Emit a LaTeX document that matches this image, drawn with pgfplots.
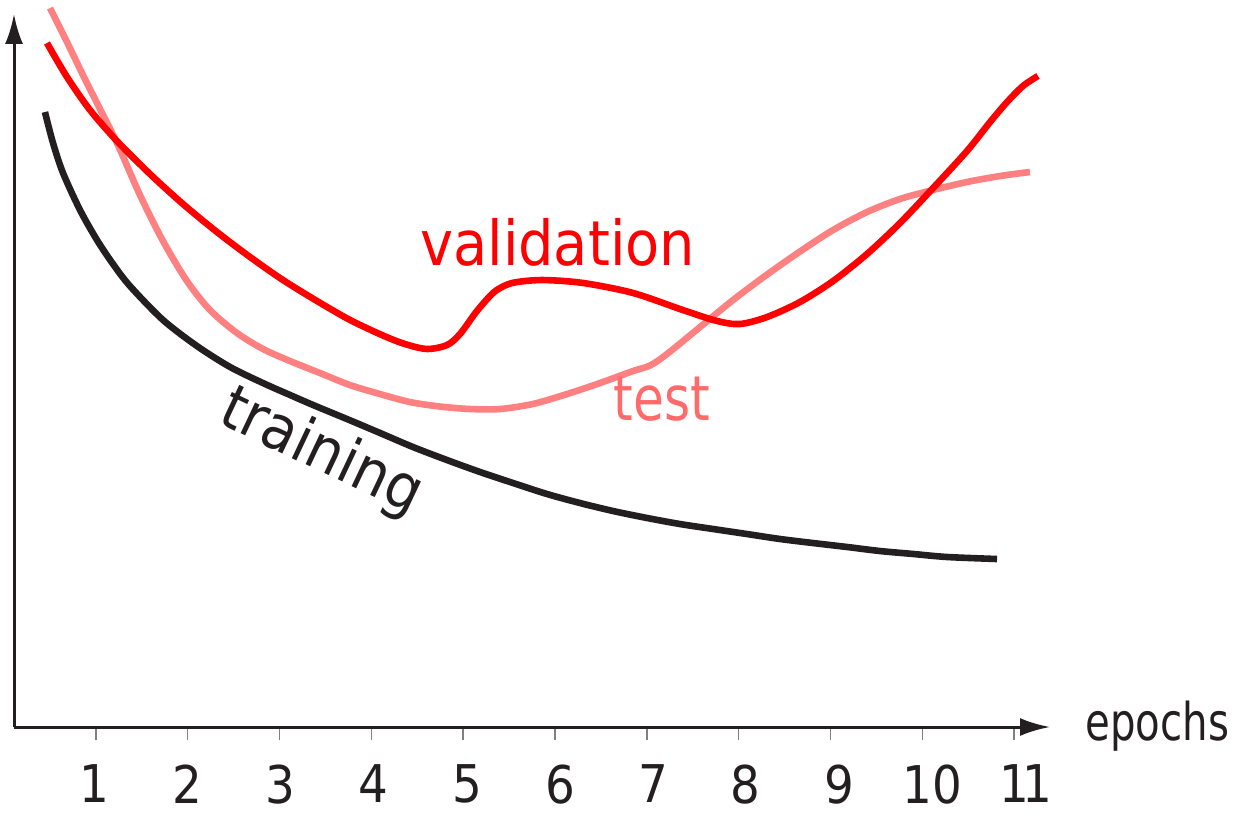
\documentclass[border=0pt]{standalone}
\usepackage{fontspec}
\setmainfont{DejaVu Sans Condensed}
\usepackage{pgfplots}
\pgfplotsset{compat=1.18}
\usetikzlibrary{arrows.meta}
\definecolor{trainc}{HTML}{231F20}
\definecolor{valc}{HTML}{FF0000}
\definecolor{testc}{HTML}{FF8080}
\definecolor{testlab}{HTML}{FF6B6B}
\begin{document}
\begin{tikzpicture}
\useasboundingbox (0,0) rectangle (622pt,-410.5pt);
\begin{axis}[
  at={(7pt,-363.5pt)}, anchor=south west,
  scale only axis, width=518pt, height=356.5pt,
  xmin=0.107, xmax=11.392, ymin=0, ymax=7.767,
  axis x line=bottom, axis y line=left,
  axis line style={trainc, line width=1.5pt},
  every outer x axis line/.append style={-{Latex[length=15pt,width=9pt]}},
  every outer y axis line/.append style={-{Latex[length=15pt,width=9pt]}},
  xtick={1,...,11}, ytick=\empty,
  xticklabels={{\kern-1.5pt 1},{\kern-0.4pt 2},{\kern0.7pt 3},{\kern1.8pt 4},{\kern3.9pt 5},{\kern5pt 6},{\kern6.1pt 7},{\kern7.2pt 8},{\kern9.3pt 9},{\kern10.4pt 10},{\kern11.5pt 1\kern-3.5pt 1}},
  tick align=outside, major tick length=6.5pt,
  x tick style={gray, line width=0.7pt},
  xticklabel style={font=\fontsize{26}{30}\selectfont, text=trainc, yshift=-9pt},
  clip=false,
]
\addplot[trainc, line width=3.3pt, smooth] coordinates {
(0.444,6.699) (0.532,6.362) (0.641,6.035) (0.826,5.632) (1.011,5.305) (1.185,5.044)
(1.370,4.804) (1.730,4.434) (2.100,4.150) (2.460,3.922) (2.819,3.747) (3.113,3.617)
(3.364,3.508) (3.734,3.355) (4.094,3.203) (4.453,3.050) (4.824,2.908) (5.183,2.778)
(5.543,2.658) (5.913,2.538) (6.272,2.440) (6.632,2.353) (7.002,2.277) (7.362,2.211)
(7.721,2.157) (8.092,2.102) (8.451,2.048) (8.811,2.004) (9.181,1.961) (9.540,1.917)
(9.900,1.885) (10.270,1.852) (10.815,1.830)};
\addplot[testc, line width=3.3pt, smooth] coordinates {
(0.499,7.832) (0.684,7.462) (0.858,7.102) (1.011,6.797) (1.229,6.362) (1.479,5.795)
(1.730,5.294) (1.991,4.858) (2.242,4.542) (2.536,4.292) (2.819,4.118) (3.113,3.987)
(3.440,3.856) (3.767,3.725) (4.094,3.627) (4.420,3.540) (4.747,3.491) (5.074,3.464)
(5.401,3.464) (5.760,3.519) (6.131,3.627) (6.490,3.747) (6.850,3.878) (7.035,3.938)
(7.220,4.063) (7.580,4.357) (7.939,4.651) (8.310,4.929) (8.669,5.180) (9.029,5.414)
(9.399,5.610) (9.758,5.752) (10.118,5.850) (10.488,5.937) (10.848,6.002) (11.174,6.046)};
\addplot[valc, line width=3.3pt, smooth] coordinates {
(0.466,7.451) (0.684,7.081) (0.935,6.721) (1.229,6.383) (1.588,6.024) (1.948,5.697)
(2.318,5.392) (2.678,5.120) (3.037,4.869) (3.407,4.641) (3.767,4.434) (4.126,4.265)
(4.366,4.172) (4.606,4.118) (4.824,4.161) (4.965,4.281) (5.150,4.532) (5.325,4.728)
(5.455,4.809) (5.586,4.847) (5.869,4.869) (6.305,4.837) (6.850,4.728) (7.394,4.542)
(7.765,4.423) (8.015,4.390) (8.310,4.466) (8.669,4.630) (9.029,4.858) (9.399,5.153)
(9.758,5.490) (10.118,5.871) (10.488,6.275) (10.739,6.590) (10.924,6.808) (11.098,6.983)
(11.261,7.092)};
\node[anchor=base west, inner sep=0pt, text=valc, font=\fontsize{31}{36}\selectfont] at (axis cs:4.53,5.03) {validation};
\node[anchor=base west, inner sep=0pt, text=testlab, font=\fontsize{31}{36}\selectfont] at (axis cs:6.632,3.344) {\scalebox{0.9}[1]{test}};
\node[anchor=base west, inner sep=0pt, text=trainc, rotate=-25.3, font=\fontsize{31}{36}\selectfont] at (axis cs:2.308,3.32) {training};
\node[anchor=base west, inner sep=0pt, text=trainc, font=\fontsize{26}{30}\selectfont] at (axis cs:11.774,-0.142) {\scalebox{0.86}[1]{epochs}};
\end{axis}
\end{tikzpicture}
\end{document}
